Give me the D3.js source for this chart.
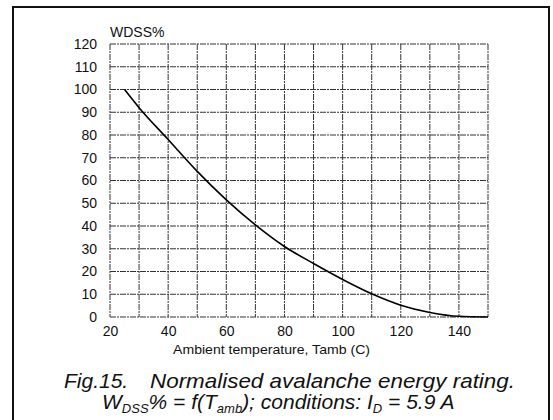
<!DOCTYPE html>
<html><head><meta charset="utf-8">
<script src="https://cdn.jsdelivr.net/npm/d3@7"></script>
<style>body{margin:0;background:#fff}svg{display:block}text{font-family:"Liberation Sans",Arial,sans-serif;fill:#111}</style>
</head><body><svg id="c" width="553" height="420"></svg>
<script>
const temps = [25, 30, 40, 50, 60, 70, 80, 90, 100, 110, 120, 130, 140, 150];
const wdss = [100, 92, 78, 64, 51.5, 40.5, 31, 23.5, 16.5, 10.2, 5.2, 2, 0.3, 0];
const xTicks = [20, 40, 60, 80, 100, 120, 140];
const xGrid = d3.range(20, 151, 10);
const yTicks = d3.range(0, 121, 10);

const svg = d3.select("#c");
const x = d3.scaleLinear().domain([20, 150]).range([110, 488]);
const y = d3.scaleLinear().domain([0, 120]).range([317, 44]);

// frame
svg.append("path").attr("d", "M13,420 V7 H549 V420").attr("fill", "none").attr("stroke", "#111").attr("stroke-width", 2);

// grid
const g = svg.append("g");
g.selectAll("line.v").data(xGrid).join("line")
  .attr("x1", d => x(d)).attr("x2", d => x(d)).attr("y1", y(120)).attr("y2", y(0))
  .attr("stroke", "#333").attr("stroke-width", 1).attr("stroke-dasharray", "6,1,2,1");
g.selectAll("line.h").data(yTicks).join("line")
  .attr("x1", x(20)).attr("x2", x(150)).attr("y1", d => y(d)).attr("y2", d => y(d))
  .attr("stroke", "#333").attr("stroke-width", 1).attr("stroke-dasharray", "6,1,2,1");

// axes labels
const yAxis = d3.axisLeft(y).tickValues(yTicks).tickSize(0).tickPadding(13);
const ya = svg.append("g").attr("transform", `translate(${x(20)},0)`).call(yAxis);
ya.select(".domain").remove();
ya.selectAll("text").attr("font-size", 14).attr("fill", "#111").attr("font-family", "Liberation Sans, Arial, sans-serif");

const xAxis = d3.axisBottom(x).tickValues(xTicks).tickSize(0).tickPadding(9);
const xa = svg.append("g").attr("transform", `translate(0,${y(0)})`).call(xAxis);
xa.select(".domain").remove();
xa.selectAll("text").attr("font-size", 14).attr("fill", "#111").attr("font-family", "Liberation Sans, Arial, sans-serif");

// curve
svg.append("path").datum(temps.map((t, i) => [t, wdss[i]]))
  .attr("d", d3.line().x(d => x(d[0])).y(d => y(d[1])).curve(d3.curveMonotoneX))
  .attr("fill", "none").attr("stroke", "#000").attr("stroke-width", 1.6);

svg.append("text").attr("x", 110).attr("y", 37).attr("font-size", 14).text("WDSS%");
svg.append("text").attr("x", 173).attr("y", 354).attr("font-size", 13.5)
  .attr("textLength", 197).attr("lengthAdjust", "spacingAndGlyphs").text("Ambient temperature, Tamb (C)");

const c1 = svg.append("text").attr("y", 388).attr("font-size", 21).attr("font-style", "italic");
c1.append("tspan").attr("x", 64).text("Fig.15.");
c1.append("tspan").attr("x", 150).attr("textLength", 365).attr("lengthAdjust", "spacingAndGlyphs")
  .text("Normalised avalanche energy rating.");

const c2 = svg.append("text").attr("x", 102).attr("y", 409).attr("font-size", 21).attr("font-style", "italic");
c2.append("tspan").text("W");
c2.append("tspan").attr("font-size", 13).attr("dy", 4).text("DSS");
c2.append("tspan").attr("dy", -4).text("% = f(T");
c2.append("tspan").attr("font-size", 13).attr("dy", 4).text("amb");
c2.append("tspan").attr("dy", -4).text("); conditions: I");
c2.append("tspan").attr("font-size", 13).attr("dy", 4).text("D");
c2.append("tspan").attr("dy", -4).text(" = 5.9 A");
</script></body></html>
